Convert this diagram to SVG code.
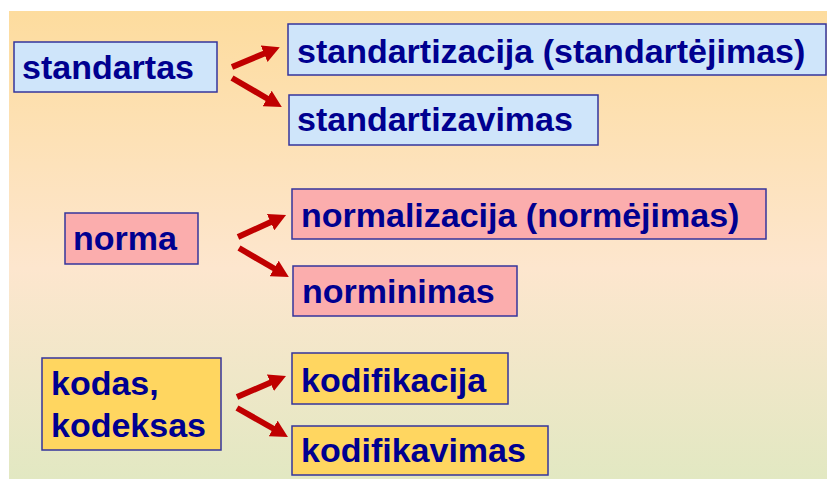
<svg xmlns="http://www.w3.org/2000/svg" width="827" height="479" viewBox="0 0 827 479">
<defs>
<linearGradient id="bg" x1="0" y1="0" x2="0" y2="1">
<stop offset="0" stop-color="#FDDC9E"/>
<stop offset="0.55" stop-color="#FDE6CE"/>
<stop offset="1" stop-color="#E2E8C2"/>
</linearGradient>
<marker id="ah" markerUnits="userSpaceOnUse" viewBox="0 -9 17 18" refX="1" refY="0" markerWidth="17" markerHeight="18" orient="auto">
<path d="M0,-9 L17,0 L0,9 z" fill="#C00000"/>
</marker>
<style>
.box{stroke:#35359C;stroke-width:1.5}
.blue{fill:#CFE5FA}
.pink{fill:#FBADAD}
.yellow{fill:#FFD660}
.t{font-family:"Liberation Sans",Arial,sans-serif;font-weight:bold;font-size:34px;fill:#000090}
.arr{stroke:#C00000;stroke-width:6;fill:none;marker-end:url(#ah)}
</style>
</defs>
<rect x="0" y="0" width="827" height="479" fill="#FFFFFF"/>
<rect x="9" y="11" width="818" height="468" fill="url(#bg)"/>
<g id="standartas"><rect class="box blue" x="14" y="42" width="203" height="50"/><text class="t" x="22" y="79">standartas</text></g>
<g id="standartizacija"><rect class="box blue" x="288" y="24" width="538" height="51"/><text class="t" x="297" y="63">standartizacija (standartėjimas)</text></g>
<g id="standartizavimas"><rect class="box blue" x="289" y="95" width="309" height="50"/><text class="t" x="297" y="131">standartizavimas</text></g>
<g id="norma"><rect class="box pink" x="65" y="213" width="133" height="51"/><text class="t" x="73" y="250">norma</text></g>
<g id="normalizacija"><rect class="box pink" x="292" y="189" width="474" height="50"/><text class="t" x="301" y="227">normalizacija (normėjimas)</text></g>
<g id="norminimas"><rect class="box pink" x="293" y="266" width="224" height="50"/><text class="t" x="302" y="303">norminimas</text></g>
<g id="kodas"><rect class="box yellow" x="42" y="358" width="179" height="92"/><text class="t" x="51" y="395">kodas,</text><text class="t" x="51" y="437">kodeksas</text></g>
<g id="kodifikacija"><rect class="box yellow" x="292" y="353" width="216" height="51"/><text class="t" x="301" y="392">kodifikacija</text></g>
<g id="kodifikavimas"><rect class="box yellow" x="292" y="426" width="256" height="49"/><text class="t" x="301" y="462">kodifikavimas</text></g>
<g id="connectors">
<line class="arr" x1="232" y1="67" x2="265" y2="53.3"/>
<line class="arr" x1="232" y1="78" x2="268" y2="99"/>
<line class="arr" x1="238" y1="237" x2="271.5" y2="221.7"/>
<line class="arr" x1="239" y1="248" x2="275" y2="269"/>
<line class="arr" x1="237" y1="397" x2="271.3" y2="382.3"/>
<line class="arr" x1="237" y1="408" x2="274" y2="429"/>
</g>
</svg>
